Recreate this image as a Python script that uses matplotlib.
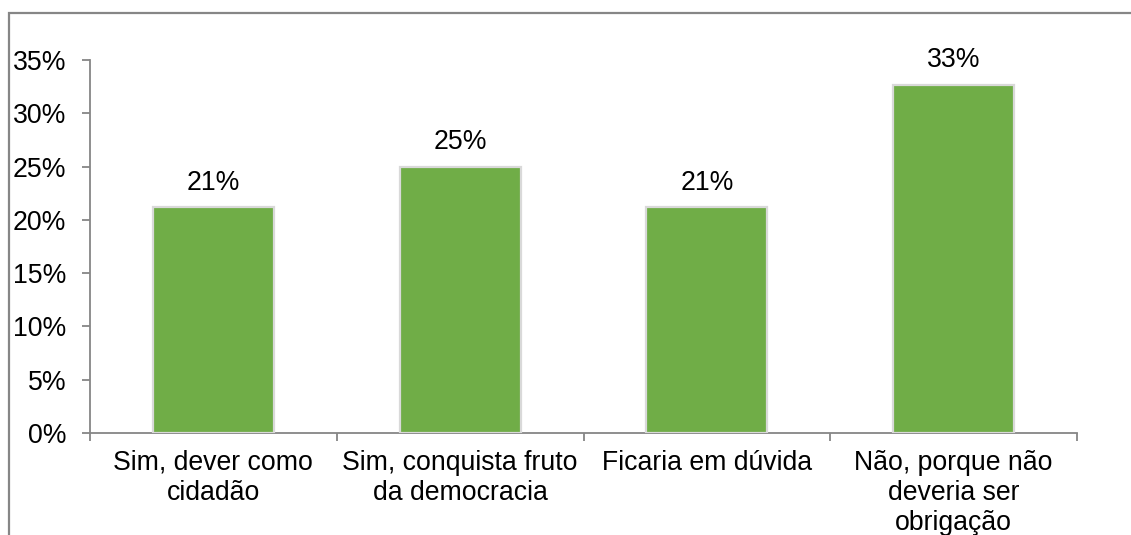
import numpy as np
import matplotlib
matplotlib.use('Agg')
import matplotlib.pyplot as plt
from matplotlib.patches import Rectangle

# survey answers and their shares (%)
categories = ['Sim, dever como\ncidadão',
              'Sim, conquista fruto\nda democracia',
              'Ficaria em dúvida',
              'Não, porque não\ndeveria ser\nobrigação']
shares = [21.2, 25.0, 21.2, 32.7]
yticks = [0, 5, 10, 15, 20, 25, 30, 35]

plt.rcParams['font.family'] = ['Liberation Sans', 'DejaVu Sans']
fsize = 19.2
grey = '#868686'

fig = plt.figure(figsize=(11.31, 5.35), dpi=100)
ax = fig.add_axes([90/1131, 1 - 433/535, (1077 - 90)/1131, (433 - 60)/535])

# outer frame of the chart area (runs past the right and bottom edges)
fig.patches.append(Rectangle((9/1131, -0.2), 1.2, 1.2 - 13/535, transform=fig.transFigure,
                             fill=False, edgecolor=grey, linewidth=1.6, zorder=0))

x = np.arange(len(categories))
bars = ax.bar(x, shares, width=0.49, color='#70AD47', edgecolor='#d9d9d9', linewidth=1.6, zorder=3)

for b, v in zip(bars, shares):
    ax.annotate('%d%%' % round(v), (b.get_x() + b.get_width()/2, v),
                xytext=(0, 8), textcoords='offset points',
                ha='center', va='bottom', fontsize=fsize, color='black')

ax.set_xlim(-0.5, len(categories) - 0.5)
ax.set_ylim(0, 35)
ax.set_yticks(yticks)
ax.set_yticklabels(['%d%%' % t for t in yticks], fontsize=fsize)

# ticks between categories, labels centred under the bars
ax.set_xticks(np.arange(len(categories) + 1) - 0.5)
ax.set_xticklabels([])
ax.set_xticks(x, minor=True)
ax.set_xticklabels(categories, minor=True, fontsize=fsize, linespacing=1.2)
ax.tick_params(axis='x', which='minor', length=0, pad=12)
ax.tick_params(axis='x', which='major', length=6, width=1.3, color=grey, direction='out')
ax.tick_params(axis='y', length=6, width=1.3, color=grey, pad=11)

for s in ['top', 'right']:
    ax.spines[s].set_visible(False)
for s in ['left', 'bottom']:
    ax.spines[s].set_color(grey)
    ax.spines[s].set_linewidth(1.3)

plt.savefig('out.png', dpi=100)
plt.close()
